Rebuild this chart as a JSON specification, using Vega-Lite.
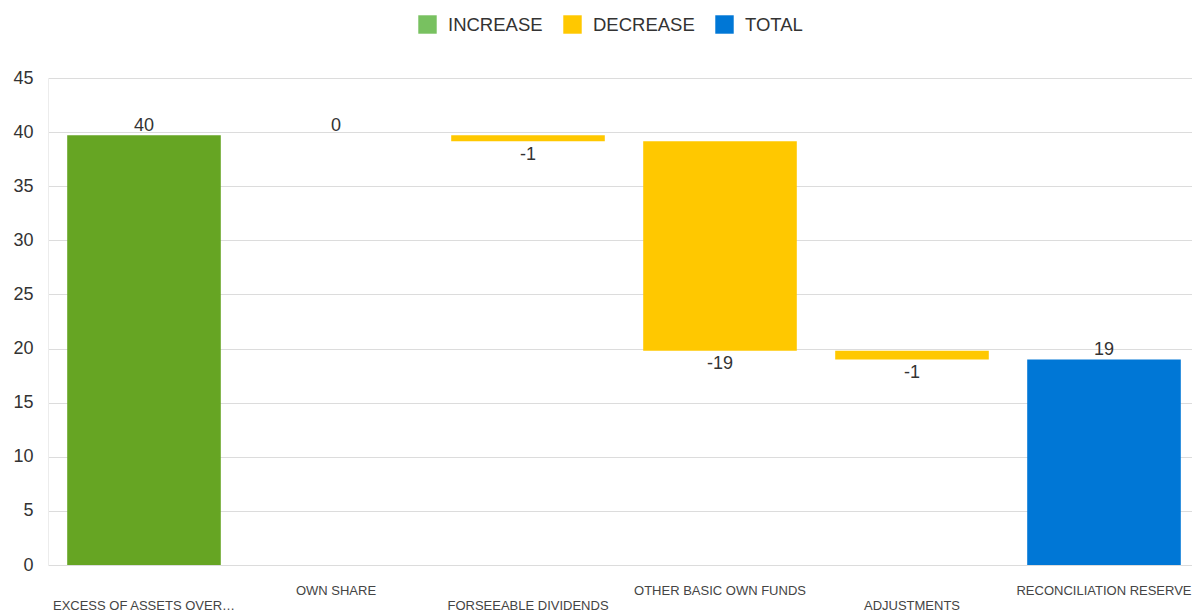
{
  "$schema": "https://vega.github.io/schema/vega-lite/v6.json",
  "width": 1144,
  "height": 487,
  "autosize": {"type": "none"},
  "padding": {"left": 48, "top": 78, "right": 0, "bottom": 47},
  "background": "white",
  "config": {
    "font": "Liberation Sans",
    "view": {"stroke": null},
    "locale": {"number": {"decimal": ".", "thousands": ",", "grouping": [3], "currency": ["$", ""], "minus": "-"}}
  },
  "data": {
    "values": [
      {"category": "EXCESS OF ASSETS OVER LIABILITIES", "type": "INCREASE", "start": 0, "end": 39.7, "amount": 39.7},
      {"category": "OWN SHARE", "type": "INCREASE", "start": 39.7, "end": 39.7, "amount": 0},
      {"category": "FORSEEABLE DIVIDENDS", "type": "DECREASE", "start": 39.7, "end": 39.15, "amount": -0.55},
      {"category": "OTHER BASIC OWN FUNDS", "type": "DECREASE", "start": 39.15, "end": 19.8, "amount": -19.35},
      {"category": "ADJUSTMENTS", "type": "DECREASE", "start": 19.8, "end": 19.0, "amount": -0.8},
      {"category": "RECONCILIATION RESERVE", "type": "TOTAL", "start": 0, "end": 19.0, "amount": 19.0}
    ]
  },
  "encoding": {
    "x": {
      "field": "category",
      "type": "nominal",
      "sort": null,
      "scale": {"range": [0, 1152], "paddingInner": 0.2, "paddingOuter": 0.1},
      "axis": {
        "title": null,
        "labelAngle": 0,
        "domain": false,
        "ticks": false,
        "labelFontSize": 13,
        "labelColor": "#444444",
        "labelLimit": 184,
        "labelOverlap": false,
        "labelBaseline": "top",
        "labelPadding": {
          "condition": {"test": "indexof(['OWN SHARE','OTHER BASIC OWN FUNDS','RECONCILIATION RESERVE'], datum.value) >= 0", "value": 19},
          "value": 34
        }
      }
    }
  },
  "layer": [
    {
      "mark": {"type": "square", "opacity": 0, "filled": true},
      "encoding": {
        "y": {"field": "end", "type": "quantitative"},
        "fill": {
          "field": "type",
          "type": "nominal",
          "scale": {"domain": ["INCREASE", "DECREASE", "TOTAL"], "range": ["#78c160", "#ffc800", "#0077d6"]},
          "legend": {
            "orient": "none",
            "legendX": 370,
            "legendY": -63,
            "direction": "horizontal",
            "title": null,
            "symbolType": "square",
            "symbolSize": 340,
            "symbolOpacity": 1,
            "symbolStrokeWidth": 0,
            "labelFontSize": 18.5,
            "labelColor": "#333333",
            "columnPadding": 20,
            "labelOffset": 11
          }
        }
      }
    },
    {
      "mark": {"type": "bar"},
      "encoding": {
        "y": {
          "field": "start",
          "type": "quantitative",
          "scale": {"domain": [0, 45], "nice": false},
          "axis": {
            "title": null,
            "values": [0, 5, 10, 15, 20, 25, 30, 35, 40, 45],
            "grid": true,
            "gridColor": "#dcdcdc",
            "ticks": false,
            "domain": true,
            "domainColor": "#ececec",
            "labelFontSize": 18,
            "labelColor": "#333333",
            "labelPadding": 15
          }
        },
        "y2": {"field": "end"},
        "color": {
          "field": "type",
          "type": "nominal",
          "scale": {"domain": ["INCREASE", "DECREASE", "TOTAL"], "range": ["#66a523", "#ffc800", "#0077d6"]},
          "legend": null
        }
      }
    },
    {
      "transform": [{"filter": "datum.type !== 'DECREASE'"}],
      "mark": {"type": "text", "baseline": "bottom", "dy": 0, "fontSize": 18, "color": "#333333"},
      "encoding": {
        "y": {"field": "end", "type": "quantitative"},
        "text": {"field": "amount", "type": "quantitative", "format": ".0f"}
      }
    },
    {
      "transform": [{"filter": "datum.type === 'DECREASE'"}],
      "mark": {"type": "text", "baseline": "top", "dy": 4.5, "fontSize": 18, "color": "#333333"},
      "encoding": {
        "y": {"field": "end", "type": "quantitative"},
        "text": {"field": "amount", "type": "quantitative", "format": ".0f"}
      }
    }
  ]
}
